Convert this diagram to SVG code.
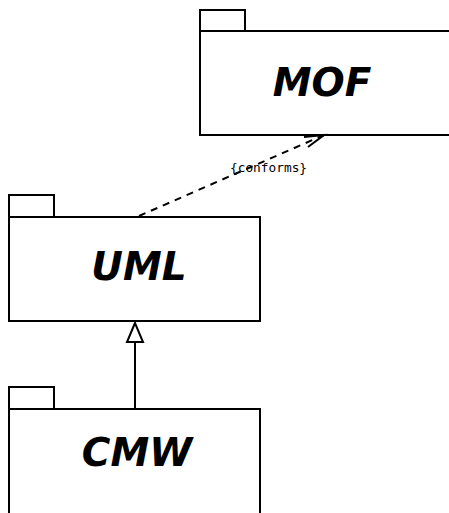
<svg xmlns="http://www.w3.org/2000/svg" width="449" height="513" viewBox="0 0 449 513">
<style>
.box{fill:#fff;stroke:#000;stroke-width:2}
.name{font-family:"DejaVu Sans",sans-serif;font-weight:bold;font-style:oblique;font-size:39px;fill:#000;text-anchor:middle}
.lbl{font-family:"DejaVu Sans Mono",monospace;font-size:12.8px;fill:#000}
.ln{fill:none;stroke:#000;stroke-width:2}
</style>
<rect width="449" height="513" fill="#fff"/>
<g id="MOF">
<rect class="box" x="200" y="10" width="45" height="21"/>
<rect class="box" x="200" y="31" width="252" height="104"/>
<text class="name" x="322" y="96">MOF</text>
</g>
<g id="UML">
<rect class="box" x="9" y="195" width="45" height="22"/>
<rect class="box" x="9" y="217" width="251" height="104"/>
<text class="name" x="139" y="280">UML</text>
</g>
<g id="CMW">
<rect class="box" x="9" y="387" width="45" height="22"/>
<rect class="box" x="9" y="409" width="251" height="110"/>
<text class="name" x="137" y="466">CMW</text>
</g>
<g id="connectors">
<line class="ln" x1="139" y1="216" x2="324" y2="135" stroke-dasharray="7,6"/>
<polyline class="ln" points="304,137 324,135 308,147"/>
<text class="lbl" x="230" y="172">{conforms}</text>
<line class="ln" x1="135" y1="409" x2="135" y2="342"/>
<polygon class="ln" points="135,323 127,342 143,342" fill="#fff"/>
</g>
</svg>
